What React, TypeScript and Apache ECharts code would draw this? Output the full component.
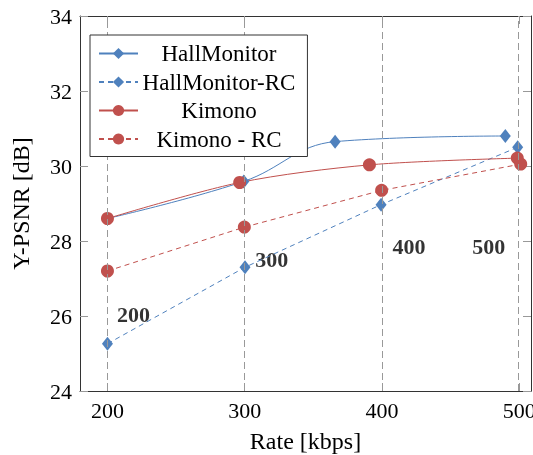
import React, { useEffect, useRef } from "react";
import * as echarts from "echarts";

const hallX = [200, 299.3, 365.8, 489.8];
const hallY = [28.6, 29.59, 30.65, 30.8];
const hallRcX = [200, 300.2, 399.3, 498.8];
const hallRcY = [25.26, 27.3, 28.97, 30.5];
const kimX = [200, 296.3, 390.8, 498.5];
const kimY = [28.6, 29.56, 30.03, 30.21];
const kimRcX = [200, 299.7, 399.7, 501];
const kimRcY = [27.2, 28.37, 29.35, 30.05];

const seriesNames = ["HallMonitor", "HallMonitor-RC", "Kimono", "Kimono - RC"];
const xTicks = [200, 300, 400, 500];
const guideX = [200, 300, 400, 499];
const noteLabels = ["200", "300", "400", "500"];
const noteX = [219, 319.6, 419.7, 477.7];
const noteY = [26.05, 27.5, 27.85, 27.85];

const BLUE = "#4F81BD";
const RED = "#C0504D";
const FONT = "'Liberation Serif', 'DejaVu Serif', serif";

const pairs = (xs: number[], ys: number[]) => xs.map((x, i) => [x, ys[i]]);

export default function App() {
  const ref = useRef<HTMLDivElement>(null);
  useEffect(() => {
    if (!ref.current) return;
    const chart = echarts.init(ref.current, undefined, { renderer: "svg" });
    const axisLine = { show: true, lineStyle: { color: "#333", width: 1 } };
    const tickStyle = { color: "#999", width: 1 };
    chart.setOption({
      animation: false,
      grid: { left: 80, top: 16, right: 2, bottom: 64, containLabel: false, outerBoundsMode: "none" },
      xAxis: [
        {
          type: "value",
          min: 180,
          max: 508.5,
          name: "Rate [kbps]",
          nameLocation: "middle",
          nameGap: 38,
          nameTextStyle: { fontFamily: FONT, fontSize: 24, color: "#000" },
          axisLine,
          axisTick: { show: true, inside: true, length: 8, lineStyle: tickStyle, customValues: xTicks },
          axisLabel: { fontFamily: FONT, fontSize: 22, color: "#000", margin: 8, customValues: xTicks, hideOverlap: false },
          splitLine: { show: false },
        },
        {
          type: "value",
          position: "top",
          min: 180,
          max: 508.5,
          axisLine,
          axisTick: { show: true, inside: true, length: 8, lineStyle: tickStyle, customValues: xTicks },
          axisLabel: { show: false, customValues: xTicks },
          splitLine: { show: false },
        },
      ],
      yAxis: [
        {
          type: "value",
          min: 24,
          max: 34,
          interval: 2,
          name: "Y-PSNR [dB]",
          nameLocation: "middle",
          nameRotate: 90,
          nameGap: 47,
          nameTextStyle: { fontFamily: FONT, fontSize: 24, color: "#000" },
          axisLine,
          axisTick: { show: true, inside: true, length: 8, lineStyle: tickStyle },
          axisLabel: { fontFamily: FONT, fontSize: 22, color: "#000", margin: 8 },
          splitLine: { show: false },
        },
        {
          type: "value",
          position: "right",
          min: 24,
          max: 34,
          interval: 2,
          axisLine,
          axisTick: { show: true, inside: true, length: 8, lineStyle: tickStyle },
          axisLabel: { show: false },
          splitLine: { show: false },
        },
      ],
      legend: {
        data: seriesNames,
        orient: "vertical",
        left: 90,
        top: 35,
        backgroundColor: "#fff",
        borderColor: "#333",
        borderWidth: 1,
        borderRadius: 0,
        padding: [7, 12, 6, 8],
        itemWidth: 39,
        itemHeight: 14,
        itemGap: 5.5,
        z: 10,
        formatter: (name: string) => `{a|${name}}`,
        textStyle: {
          fontFamily: FONT,
          fontSize: 23,
          color: "#000",
          rich: { a: { width: 152, align: "center", fontFamily: FONT, fontSize: 23, lineHeight: 22, color: "#000" } },
        },
      },
      series: [
        {
          name: "guides",
          type: "line",
          data: [],
          markLine: {
            silent: true,
            symbol: "none",
            label: { show: false },
            lineStyle: { color: "#999", type: [7, 4], width: 1 },
            data: guideX.map((x) => ({ xAxis: x })),
          },
        },
        {
          name: seriesNames[0],
          type: "line",
          data: pairs(hallX, hallY),
          smooth: 0.4,
          symbol: "diamond",
          symbolSize: [11, 14],
          lineStyle: { color: BLUE, width: 1 },
          itemStyle: { color: BLUE },
        },
        {
          name: seriesNames[1],
          type: "line",
          data: pairs(hallRcX, hallRcY),
          symbol: "diamond",
          symbolSize: [11, 14],
          lineStyle: { color: BLUE, width: 1, type: [5, 4] },
          itemStyle: { color: BLUE },
        },
        {
          name: seriesNames[2],
          type: "line",
          data: pairs(kimX, kimY),
          smooth: 0.3,
          symbol: "circle",
          symbolSize: 13,
          lineStyle: { color: RED, width: 1 },
          itemStyle: { color: RED },
        },
        {
          name: seriesNames[3],
          type: "line",
          data: pairs(kimRcX, kimRcY),
          symbol: "circle",
          symbolSize: 13,
          lineStyle: { color: RED, width: 1, type: [5, 4] },
          itemStyle: { color: RED },
        },
        {
          name: "notes",
          type: "scatter",
          symbolSize: 0,
          silent: true,
          data: noteLabels.map((t, i) => ({ name: t, value: [noteX[i], noteY[i]] })),
          label: {
            show: true,
            position: "inside",
            formatter: (p: any) => p.name,
            fontFamily: FONT,
            fontWeight: "bold",
            fontSize: 22,
            color: "#000",
            textBorderWidth: 0,
          },
        },
      ],
    });
    return () => chart.dispose();
  }, []);
  return <div ref={ref} style={{ position: "fixed", left: 0, top: 0, width: 533, height: 455 }} />;
}
